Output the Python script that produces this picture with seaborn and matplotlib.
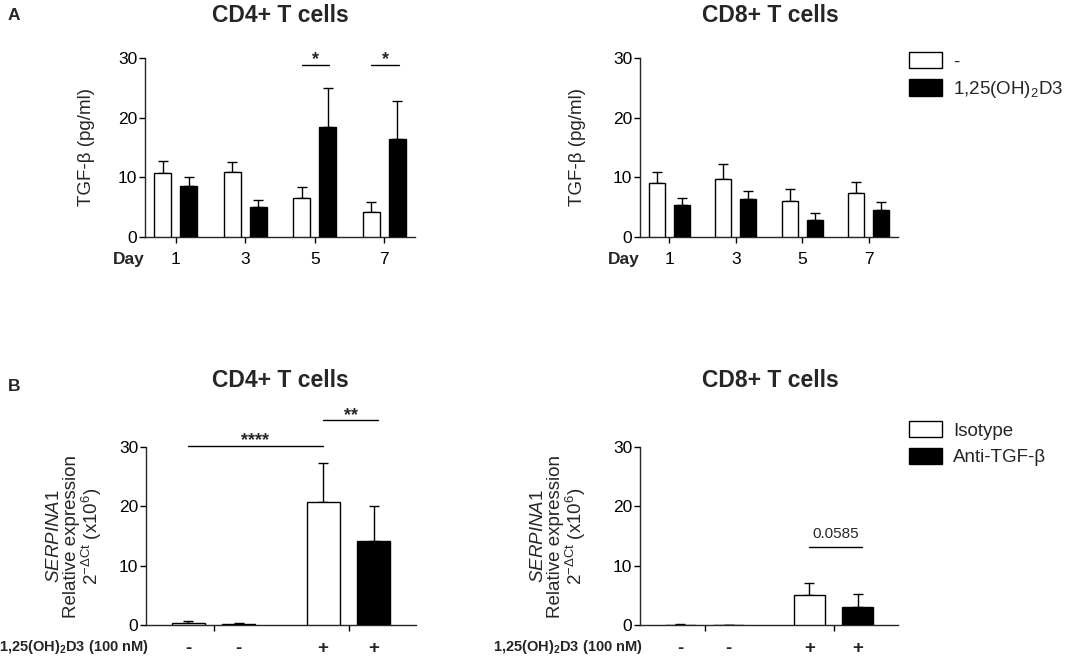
import numpy as np
import pandas as pd
import matplotlib
matplotlib.use("Agg")
import matplotlib.pyplot as plt
import seaborn as sns
from matplotlib.patches import Patch
from matplotlib.container import BarContainer

# ---------------- data ----------------
days = ["1", "3", "5", "7"]
treat_labels = ["-", "1,25(OH)$_2$D3"]

cd4_ctrl_mean = [10.65, 10.95, 6.5, 4.25]
cd4_ctrl_sem = [2.05, 1.65, 1.9, 1.55]
cd4_d3_mean = [8.6, 4.95, 18.5, 16.4]
cd4_d3_sem = [1.5, 1.3, 6.5, 6.4]

cd8_ctrl_mean = [9.1, 9.65, 5.95, 7.3]
cd8_ctrl_sem = [1.8, 2.65, 2.05, 1.85]
cd8_d3_mean = [5.4, 6.3, 2.8, 4.6]
cd8_d3_sem = [1.2, 1.45, 1.3, 1.2]

d3_groups = ["-", "+"]
ab_labels = ["Isotype", "Anti-TGF-β"]
bar_tick_labels = ["-", "-", "+", "+"]

b_cd4_iso_mean = [0.4, 20.7]
b_cd4_iso_sem = [0.3, 6.6]
b_cd4_anti_mean = [0.22, 14.2]
b_cd4_anti_sem = [0.18, 5.8]

b_cd8_iso_mean = [0.08, 5.1]
b_cd8_iso_sem = [0.05, 2.0]
b_cd8_anti_mean = [0.05, 3.0]
b_cd8_anti_sem = [0.03, 2.2]

# significance: (x_start, x_end, y, label)
sig_a_cd4 = [(1.81, 2.21, 28.9, "*"), (2.81, 3.21, 28.9, "*")]
sig_b_cd4 = [(-0.19, 0.81, 30.2, "****"), (0.81, 1.22, 34.5, "**")]
sig_b_cd8 = [(0.81, 1.22, 13.1, "0.0585")]

colors = ["white", "black"]

# ---------------- style ----------------
sns.set_theme(style="ticks")
plt.rcParams["font.family"] = ["Liberation Sans", "DejaVu Sans"]
plt.rcParams["mathtext.fontset"] = "custom"
plt.rcParams["mathtext.rm"] = "Liberation Sans"
plt.rcParams["mathtext.it"] = "Liberation Sans:italic"
plt.rcParams["mathtext.bf"] = "Liberation Sans:bold"
plt.rcParams["axes.linewidth"] = 1.0

W, H = 1084, 660
fig = plt.figure(figsize=(W / 100, H / 100), dpi=100)


def px_axes(x0, y0, x1, y1):
    return fig.add_axes([x0 / W, 1 - y1 / H, (x1 - x0) / W, (y1 - y0) / H])


ax_a1 = px_axes(145, 58, 415, 237)
ax_a2 = px_axes(640, 58, 898, 237)
ax_b1 = px_axes(146, 447, 416, 625)
ax_b2 = px_axes(640, 447, 898, 625)


def make_df(cats, labels, means):
    rows = []
    for lab, m in zip(labels, means):
        for c, v in zip(cats, m):
            rows.append({"cat": c, "grp": lab, "value": v})
    return pd.DataFrame(rows)


def draw(ax, cats, labels, means, sems):
    df = make_df(cats, labels, means)
    sns.barplot(data=df, x="cat", y="value", hue="grp", order=cats,
                hue_order=labels, palette=colors, edgecolor="black",
                linewidth=1.0, width=0.75, gap=0.35, saturation=1,
                errorbar=None, legend=False, ax=ax, zorder=3)
    bar_conts = [c for c in ax.containers if isinstance(c, BarContainer)]
    for hi, cont in enumerate(bar_conts):
        for bar in cont:
            cx = bar.get_x() + bar.get_width() / 2
            ci = int(round(cx))
            ax.errorbar(cx, bar.get_height(), yerr=[[0], [sems[hi][ci]]],
                        fmt="none", ecolor="black", elinewidth=1.0,
                        capsize=3.3, capthick=1.0, zorder=2)
    ax.set_ylim(0, 30)
    ax.set_yticks([0, 10, 20, 30])
    sns.despine(ax=ax)
    ax.tick_params(axis="y", labelsize=12.5, length=4, width=1, pad=1.5,
                   colors="black")
    ax.tick_params(axis="x", labelsize=12.5, length=4, width=1, pad=6.5,
                   colors="black")
    ax.set_xlabel("")
    return bar_conts


def add_sig(ax, sigs, fs, dy):
    for x0, x1, y, lab in sigs:
        ax.plot([x0, x1], [y, y], color="black", lw=1.0, clip_on=False)
        ax.text((x0 + x1) / 2, y + dy, lab, ha="center", va="bottom",
                fontsize=fs, clip_on=False,
                fontweight="bold" if lab.startswith("*") else "normal")


# ---- panel A ----
for ax, m, s in [(ax_a1, [cd4_ctrl_mean, cd4_d3_mean], [cd4_ctrl_sem, cd4_d3_sem]),
                 (ax_a2, [cd8_ctrl_mean, cd8_d3_mean], [cd8_ctrl_sem, cd8_d3_sem])]:
    draw(ax, days, treat_labels, m, s)
    ax.set_xlim(-0.44, 3.44)
    ax.set_ylabel("TGF-β (pg/ml)", fontsize=13.5)
    ax.annotate("Day", xy=(0, 0), xycoords="axes fraction", xytext=(0, -10.5),
                textcoords="offset points", ha="right", va="top",
                fontsize=12.5, fontweight="bold")

ax_a1.yaxis.set_label_coords(-0.185, 0.5)
ax_a2.yaxis.set_label_coords(-0.21, 0.5)
add_sig(ax_a1, sig_a_cd4, 13, -0.6)

# ---- panel B ----
ylab_b = ("$\\mathit{SERPINA1}$\nRelative expression\n"
          "2$^{\\mathrm{-\\Delta Ct}}$ (x10$^{6}$)")
for ax, m, s in [(ax_b1, [b_cd4_iso_mean, b_cd4_anti_mean], [b_cd4_iso_sem, b_cd4_anti_sem]),
                 (ax_b2, [b_cd8_iso_mean, b_cd8_anti_mean], [b_cd8_iso_sem, b_cd8_anti_sem])]:
    conts = draw(ax, d3_groups, ab_labels, m, s)
    ax.set_xlim(-0.5, 1.5)
    ax.set_xticklabels(["", ""])
    centers = sorted(b.get_x() + b.get_width() / 2 for c in conts for b in c)
    ax.set_xticks(centers, minor=True)
    ax.set_xticklabels(bar_tick_labels, minor=True, fontsize=13.5,
                       fontweight="bold")
    ax.tick_params(axis="x", which="minor", length=0, pad=11)
    ax.set_ylabel(ylab_b, fontsize=13.5, linespacing=1.0)
    ax.annotate("1,25(OH)$_\\mathbf{2}$D3 (100 nM)", xy=(0, 0),
                xycoords="axes fraction", xytext=(2, -16),
                textcoords="offset points", ha="right", va="center",
                fontsize=10.5, fontweight="bold")

ax_b1.yaxis.set_label_coords(-0.155, 0.5)
ax_b2.yaxis.set_label_coords(-0.2, 0.5)
add_sig(ax_b1, sig_b_cd4, 13, -0.6)
add_sig(ax_b2, sig_b_cd8, 11, 1.0)

# ---- titles & panel letters ----
fig.text(280 / W, 1 - 15 / H, "CD4+ T cells", ha="center", va="center",
         fontsize=16.5, fontweight="bold")
fig.text(770 / W, 1 - 15 / H, "CD8+ T cells", ha="center", va="center",
         fontsize=16.5, fontweight="bold")
fig.text(280 / W, 1 - 380 / H, "CD4+ T cells", ha="center", va="center",
         fontsize=16.5, fontweight="bold")
fig.text(770 / W, 1 - 380 / H, "CD8+ T cells", ha="center", va="center",
         fontsize=16.5, fontweight="bold")
fig.text(8 / W, 1 - 16 / H, "A", ha="left", va="center", fontsize=12.5,
         fontweight="bold")
fig.text(8 / W, 1 - 387 / H, "B", ha="left", va="center", fontsize=12.5,
         fontweight="bold")

# ---- legends ----
def add_legend(labels, top_px):
    handles = [Patch(facecolor=c, edgecolor="black", linewidth=1.0)
               for c in colors]
    fig.legend(handles, labels, loc="upper left",
               bbox_to_anchor=(909 / W, 1 - top_px / H), frameon=False,
               fontsize=13.5, handlelength=1.75, handleheight=0.95,
               handletextpad=0.6, labelspacing=0.45, borderpad=0,
               borderaxespad=0)

add_legend(treat_labels, 52)
add_legend(ab_labels, 421)

fig.savefig("out.png", dpi=100)
